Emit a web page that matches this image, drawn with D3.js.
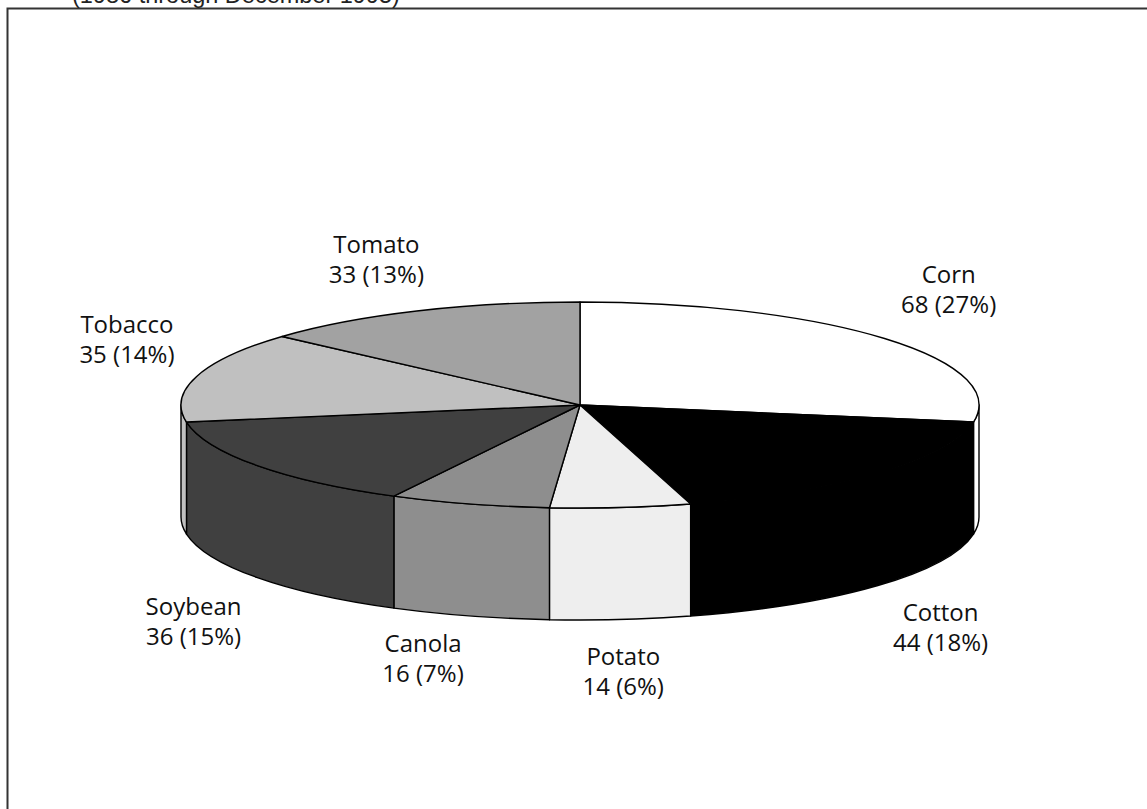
<!DOCTYPE html>
<html>
<head>
<meta charset="utf-8">
<script src="https://cdn.jsdelivr.net/npm/d3@7"></script>
<style>
  html, body { margin: 0; padding: 0; background: #fff; }
  svg { display: block; }
</style>
</head>
<body>
<div id="chart"></div>
<script>
// Crops and their counts
const categories = ["Corn", "Cotton", "Potato", "Canola", "Soybean", "Tobacco", "Tomato"];
const counts = [68, 44, 14, 16, 36, 35, 33];
const percents = [27, 18, 6, 7, 15, 14, 13];
const subtitle = "(1986 through December 1995)";

// Slice shades
const shades = ["#ffffff", "#000000", "#eeeeee", "#8e8e8e", "#404040", "#c0c0c0", "#a2a2a2"];

// Small per-label layout tweaks [dx, dy] on top of the radial placement
const labelNudge = [[0, -7], [0, 0], [-6, -11], [-23, -18], [5, 7], [11, -19], [-6, 7]];

const W = 1147, H = 809;
const cx = 580, cy = 405;   // pie centre on the top face
const rx = 399, ry = 103;   // top-face ellipse radii
const depth = 112;          // thickness of the disc

const svg = d3.select("#chart").append("svg")
  .attr("width", W).attr("height", H);

svg.append("rect").attr("width", W).attr("height", H).attr("fill", "#fff");

// Frame (runs off the right and bottom edges)
svg.append("path")
  .attr("d", `M7.5,${H + 5} V8.5 H${W + 5}`)
  .attr("fill", "none").attr("stroke", "#333").attr("stroke-width", 2);

// Subtitle, clipped by the top of the page
svg.append("text")
  .attr("x", 72).attr("y", 3)
  .attr("font-family", "Liberation Sans, Arial, sans-serif")
  .attr("font-size", 23.5)
  .attr("fill", "#222")
  .text(subtitle);

const color = d3.scaleOrdinal().domain(categories).range(shades);

const pie = d3.pie().sort(null).value(d => d.count);
const data = categories.map((c, i) => ({ name: c, count: counts[i], pct: percents[i], i }));
const arcs = pie(data);

// Projection of an angle (clockwise from 12 o'clock) onto the tilted disc
const px = a => cx + rx * Math.sin(a);
const py = (a, h) => cy - ry * Math.cos(a) + h;

function topPath(a0, a1) {
  const large = (a1 - a0) > Math.PI ? 1 : 0;
  return `M${cx},${cy} L${px(a0)},${py(a0, 0)} A${rx},${ry} 0 ${large} 1 ${px(a1)},${py(a1, 0)} Z`;
}

function sidePath(a0, a1) {
  return `M${px(a0)},${py(a0, 0)} A${rx},${ry} 0 0 1 ${px(a1)},${py(a1, 0)}` +
         ` L${px(a1)},${py(a1, depth)} A${rx},${ry} 0 0 0 ${px(a0)},${py(a0, depth)} Z`;
}

const g = svg.append("g")
  .attr("stroke", "#000").attr("stroke-width", 1.4).attr("stroke-linejoin", "round");

// Front walls: only the part of each slice between 3 and 9 o'clock shows
const front = [Math.PI / 2, 3 * Math.PI / 2];
g.selectAll("path.side")
  .data(arcs.filter(d => d.endAngle > front[0] && d.startAngle < front[1]))
  .join("path")
  .attr("class", "side")
  .attr("fill", d => color(d.data.name))
  .attr("d", d => sidePath(Math.max(d.startAngle, front[0]), Math.min(d.endAngle, front[1])));

// Top faces
g.selectAll("path.top")
  .data(arcs)
  .join("path")
  .attr("class", "top")
  .attr("fill", d => color(d.data.name))
  .attr("d", d => topPath(d.startAngle, d.endAngle));

// Labels: placed radially outside the disc, below the wall for the front half
const lrx = 483, lry = 167, lineGap = 30;
const labels = svg.append("g")
  .attr("font-family", "Open Sans, sans-serif")
  .attr("font-size", 24)
  .attr("fill", "#111")
  .attr("text-anchor", "middle");

arcs.forEach(d => {
  const mid = (d.startAngle + d.endAngle) / 2;
  const nudge = labelNudge[d.data.i];
  const x = cx + lrx * Math.sin(mid) + nudge[0];
  const yc = cy - lry * Math.cos(mid) + (Math.cos(mid) < 0 ? depth : 0) + nudge[1];
  const t = labels.append("text").attr("x", x).attr("y", yc);
  t.append("tspan").attr("x", x).attr("y", yc - lineGap / 2 + 8).text(d.data.name);
  t.append("tspan").attr("x", x).attr("y", yc + lineGap / 2 + 8).text(`${d.data.count} (${d.data.pct}%)`);
});
</script>
</body>
</html>
